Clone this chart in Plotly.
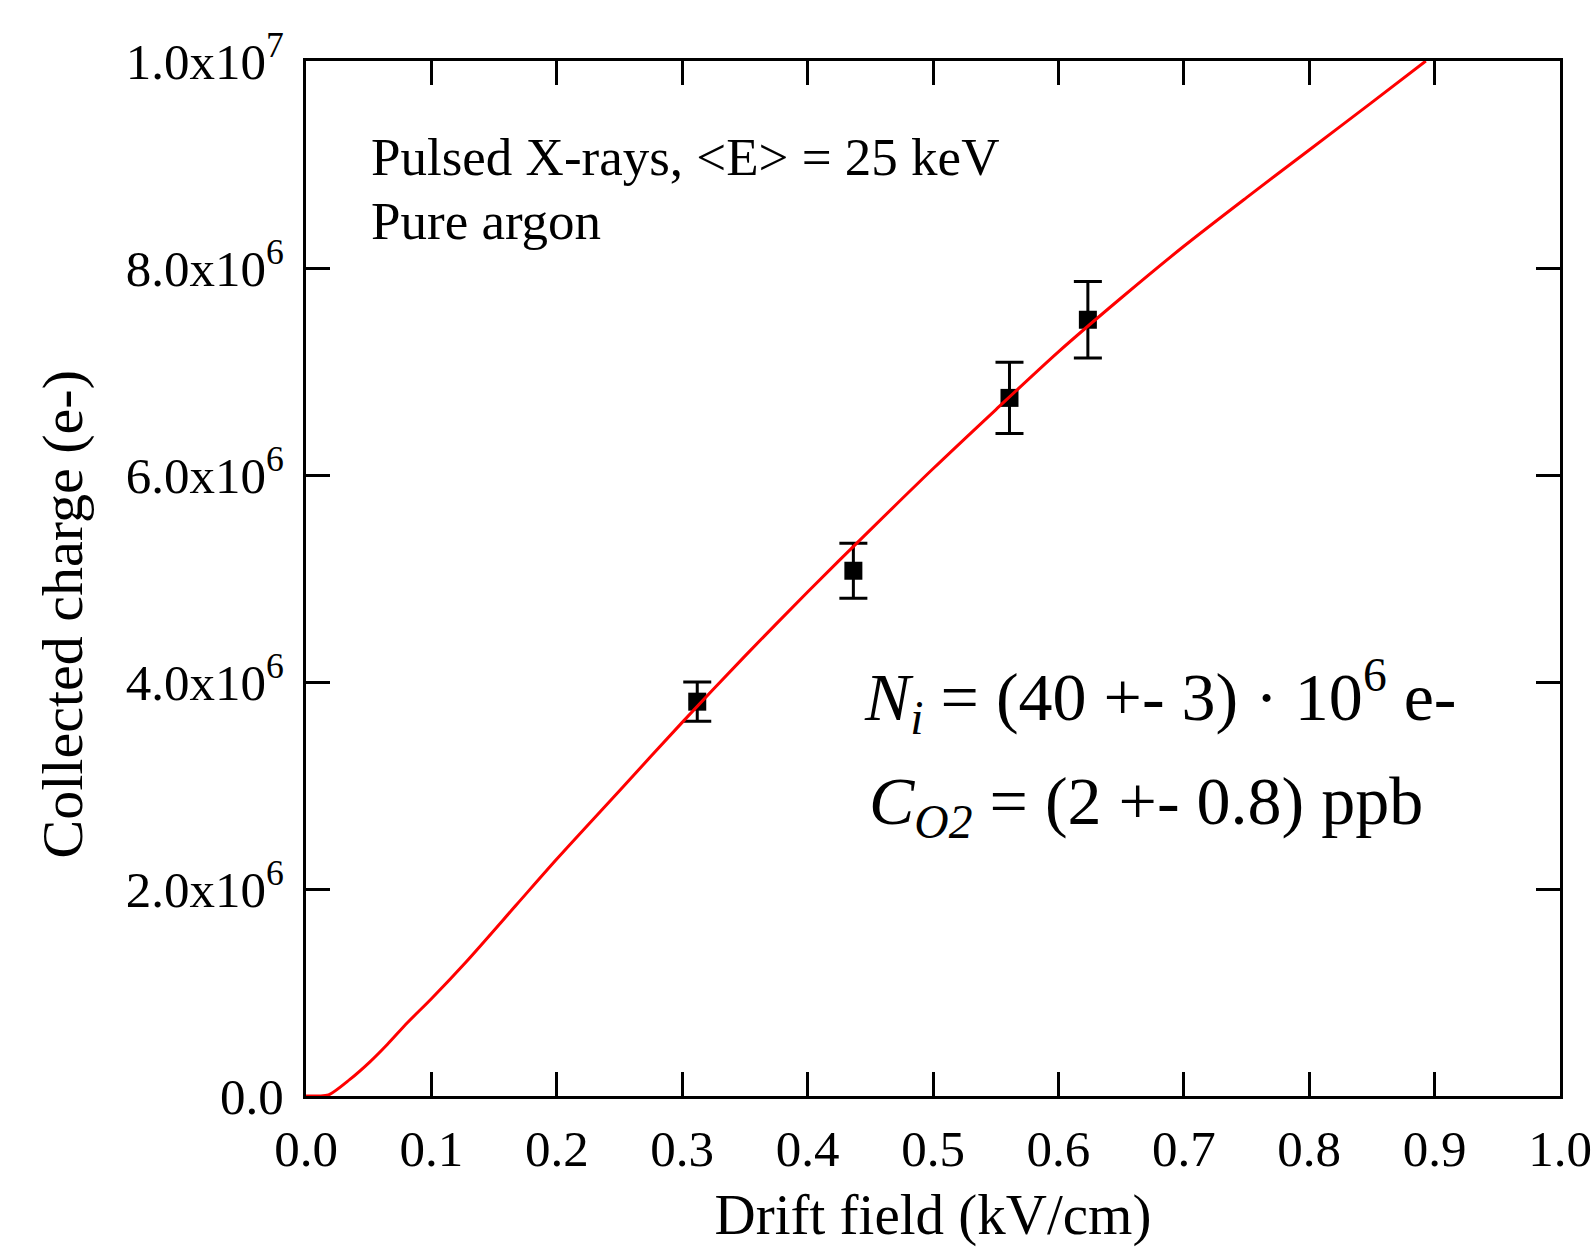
import plotly.graph_objects as go

# Measured data points (drift field kV/cm, collected charge e-)
field = [0.312, 0.4365, 0.561, 0.6235]
charge = [3.81e6, 5.075e6, 6.745e6, 7.50e6]
charge_err = [0.19e6, 0.265e6, 0.345e6, 0.37e6]

# Fit curve
fit_field = [0.0, 0.01, 0.018, 0.035, 0.051, 0.065, 0.081, 0.1, 0.128, 0.168, 0.2,
             0.25, 0.3, 0.35, 0.4, 0.45, 0.5, 0.55, 0.6, 0.65, 0.7, 0.75, 0.8, 0.85, 0.893]
fit_charge = [0.0, 0.0, 0.01e6, 0.16e6, 0.33e6, 0.50e6, 0.71e6, 0.94e6, 1.30e6, 1.85e6, 2.29e6,
              2.95e6, 3.61e6, 4.25e6, 4.87e6, 5.47e6, 6.06e6, 6.63e6, 7.19e6, 7.71e6, 8.21e6,
              8.68e6, 9.14e6, 9.60e6, 10.0e6]

x_ticks = [0.0, 0.1, 0.2, 0.3, 0.4, 0.5, 0.6, 0.7, 0.8, 0.9, 1.0]
x_ticklabels = ["0.0", "0.1", "0.2", "0.3", "0.4", "0.5", "0.6", "0.7", "0.8", "0.9", "1.0"]
y_ticks = [0, 2e6, 4e6, 6e6, 8e6, 1e7]
y_ticklabels = ["0.0", "2.0x10<sup>6</sup>", "4.0x10<sup>6</sup>", "6.0x10<sup>6</sup>",
                "8.0x10<sup>6</sup>", "1.0x10<sup>7</sup>"]

FONT = "Liberation Serif"

fig = go.Figure()
fig.add_trace(go.Scatter(
    x=field, y=charge, mode="markers",
    marker=dict(symbol="square", size=18, color="black"),
    error_y=dict(type="data", array=charge_err, visible=True, color="black",
                 thickness=3, width=14),
    showlegend=False,
))
fig.add_trace(go.Scatter(
    x=fit_field, y=fit_charge, mode="lines",
    line=dict(color="#ff0000", width=3, shape="spline", smoothing=0.8),
    showlegend=False,
))

axis_common = dict(
    showgrid=False, zeroline=False, showline=True, linecolor="black", linewidth=3,
    ticks="inside", ticklen=24, tickwidth=3, tickcolor="black", mirror="ticks",
    tickfont=dict(family=FONT, size=51, color="black"),
    automargin=False, ticklabeloverflow="allow",
)

fig.update_xaxes(range=[0, 1], tickmode="array", tickvals=x_ticks, ticktext=x_ticklabels,
                 title=dict(text="Drift field (kV/cm)", font=dict(family=FONT, size=57, color="black"),
                            standoff=18),
                 ticklabelstandoff=6,
                 **axis_common)
fig.update_yaxes(range=[0, 1e7], tickmode="array", tickvals=y_ticks, ticktext=y_ticklabels,
                 ticklabelstandoff=9,
                 **axis_common)

# y-axis title (placed as rotated text so it can sit where the reference has it)
fig.add_annotation(x=-0.194, y=0.465, xref="paper", yref="paper", xanchor="center", yanchor="middle",
                   text="Collected charge (e-)", textangle=-90, showarrow=False,
                   font=dict(family=FONT, size=58, color="black"))

ann_font = dict(family=FONT, size=53, color="black")
big_font = dict(family=FONT, size=68, color="black")
fig.add_annotation(x=0.05, y=0.907, xref="paper", yref="paper", xanchor="left", yanchor="middle",
                   text="Pulsed X-rays, &lt;E&gt; = 25 keV", showarrow=False, font=ann_font)
fig.add_annotation(x=0.05, y=0.845, xref="paper", yref="paper", xanchor="left", yanchor="middle",
                   text="Pure argon", showarrow=False, font=ann_font)
fig.add_annotation(x=0.443, y=0.386, xref="paper", yref="paper", xanchor="left", yanchor="middle",
                   text="<i>N</i><sub><i>i</i></sub> = (40 +- 3) · 10<sup>6</sup> e-",
                   showarrow=False, font=big_font)
fig.add_annotation(x=0.447, y=0.281, xref="paper", yref="paper", xanchor="left", yanchor="middle",
                   text="<i>C</i><sub><i>O2</i></sub> = (2 +- 0.8) ppb",
                   showarrow=False, font=big_font)

fig.update_layout(
    width=1591, height=1249,
    margin=dict(l=306, r=31, t=61, b=153),
    paper_bgcolor="white", plot_bgcolor="white",
)

fig.write_html("out.html")
